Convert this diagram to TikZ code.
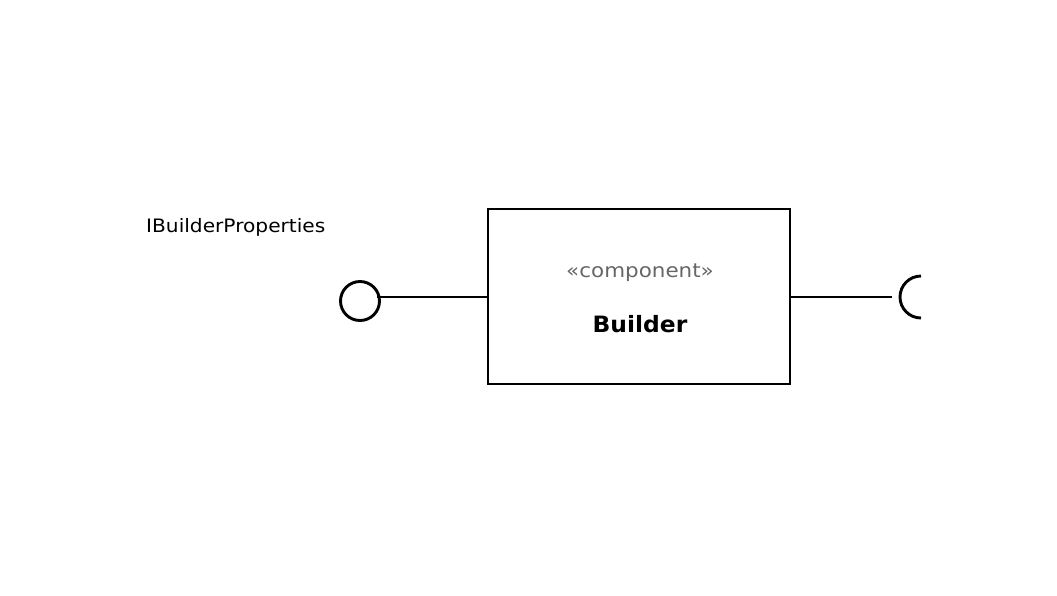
\documentclass[tikz,border=0pt]{standalone}
\usepackage{fontspec}
\setmainfont{DejaVu Sans}
\begin{document}
\begin{tikzpicture}[x=1pt,y=-1pt,
  lw/.style={line width=2.9pt},
  comp/.style={draw,lw,minimum width=302pt,minimum height=175pt,inner sep=0pt},
  lbl/.style={font=\fontsize{18.5}{20}\selectfont,inner sep=0pt},
  stereo/.style={font=\fontsize{19.5}{22}\selectfont,text=black!60,inner sep=0pt},
  title/.style={font=\fontsize{22.5}{26}\selectfont\bfseries,inner sep=0pt}]
\useasboundingbox (0,0) rectangle (1057,595);
\node[comp] (box) at (639,296.5) {};
\node[stereo] (st) at (640,272.5) {\scalebox{1.1}[1]{«component»}};
\node[title] (ti) at (640,324) {\scalebox{1.04}[1]{Builder}};
\node[lbl,anchor=west] (if) at (146,227) {\scalebox{1.09}[1]{IBuilderProperties}};
\node[draw,lw,circle,minimum size=39pt,inner sep=0pt] (ball) at (360,301) {};
\coordinate (ballend) at (377,297);
\coordinate (sockend) at (892,297);
\draw[lw] (ballend) -- (box.west |- ballend);
\draw[lw] (box.east |- sockend) -- (sockend);
\draw[lw] (921,318) arc[start angle=90,end angle=270,radius=21];
\end{tikzpicture}
\end{document}
